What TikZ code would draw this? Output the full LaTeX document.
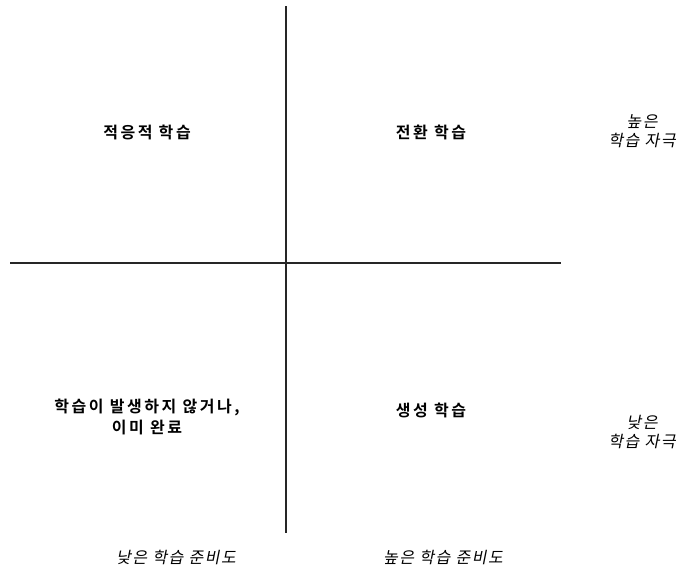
\documentclass[tikz,border=0pt]{standalone}
\usepackage{fontspec}
\setmainfont{Noto Sans CJK KR}
\newfontfamily\cjkbold[LetterSpace=16]{Noto Sans CJK KR Bold}
\newfontfamily\cjkit[FakeSlant=0.2,LetterSpace=10]{Noto Sans CJK KR}
\newfontfamily\cjkitr[FakeSlant=0.2,LetterSpace=10]{Noto Sans CJK KR}
\begin{document}
\begin{tikzpicture}[x=1pt,y=-1pt,
  axis/.style={draw=black!85,line width=1.6pt},
  quad/.style={font=\fontsize{16}{21}\selectfont\cjkbold,align=center,inner sep=0pt},
  lbl/.style={font=\fontsize{16}{20}\selectfont\cjkit,align=center,inner sep=0pt},
  rlbl/.style={font=\fontsize{16}{19}\selectfont\cjkitr,align=center,inner sep=0pt}]
\useasboundingbox (0,0) rectangle (684,574);
\coordinate (vt) at (286,6);
\coordinate (vb) at (286,533);
\coordinate (hl) at (10,263);
\coordinate (hr) at (561,263);
\draw[axis] (vt) -- (vb);
\draw[axis] (hl) -- (hr);
\node[quad] (q1) at (147,132) {적응적 학습};
\node[quad] (q2) at (431,132) {전환 학습};
\node[quad] (q3) at (147,417) {학습이 발생하지 않거나,\\이미 완료};
\node[quad] (q4) at (431,410) {생성 학습};
\node[rlbl] (hs) at (642,131) {높은\\학습 자극};
\node[rlbl] (ls) at (642,432) {낮은\\학습 자극};
\node[lbl] (lr) at (176,557) {낮은 학습 준비도};
\node[lbl] (hr2) at (443,557) {높은 학습 준비도};
\end{tikzpicture}
\end{document}
